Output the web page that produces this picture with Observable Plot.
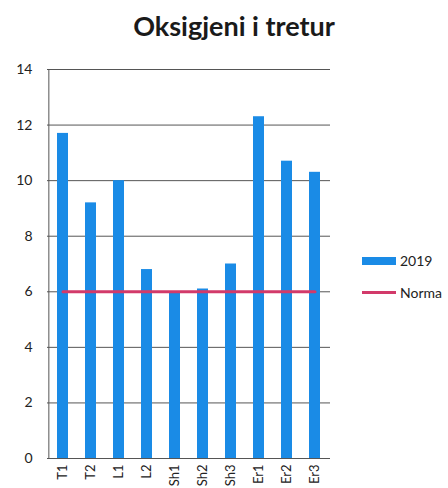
<!DOCTYPE html>
<html>
<head>
<meta charset="utf-8">
<script src="https://cdn.jsdelivr.net/npm/d3@7"></script>
<script src="https://cdn.jsdelivr.net/npm/@observablehq/plot@0.6"></script>
<style>
  html, body { margin: 0; padding: 0; background: #fff; }
  body { width: 448px; height: 488px; overflow: hidden; position: relative; font-family: Lato, "Open Sans", sans-serif; }
  #title { position: absolute; left: 0; top: 9px; width: 468px; text-align: center; font-size: 27px; font-weight: bold; color: #1a1a1a; }
  #chart { position: absolute; left: 0; top: 50px; }
  .leg { position: absolute; left: 362px; font-size: 14px; color: #222; display: flex; align-items: center; }
  .sw { display: inline-block; width: 34px; margin-right: 4px; }
</style>
</head>
<body>
<div id="title">Oksigjeni i tretur</div>
<div id="chart"></div>
<div class="leg" style="top:252px"><span class="sw" style="height:8px;background:#1a8be6"></span>2019</div>
<div class="leg" style="top:284px"><span class="sw" style="height:3px;background:#d23a6a"></span>Norma</div>
<script>
const categories = ["T1", "T2", "L1", "L2", "Sh1", "Sh2", "Sh3", "Er1", "Er2", "Er3"];
const values2019 = [11.7, 9.2, 10.0, 6.8, 6.0, 6.1, 7.0, 12.3, 10.7, 10.3];
const normaValues = [6, 6, 6, 6, 6, 6, 6, 6, 6, 6];
const yTicks = [0, 2, 4, 6, 8, 10, 12, 14];

const data = categories.map((c, i) => ({cat: c, v: values2019[i], n: normaValues[i]}));

const W = 448, H = 438, mL = 47, mR = 118;
const half = (W - mL - mR) / categories.length / 2;

const chart = Plot.plot({
  width: W,
  height: H,
  marginLeft: mL,
  marginRight: mR,
  marginTop: 19,
  marginBottom: 30,
  style: {fontFamily: "Lato, 'Open Sans', sans-serif", color: "#222", overflow: "visible"},
  x: {domain: categories, paddingInner: 0.6, paddingOuter: 0.3, align: 0.5, label: null},
  y: {domain: [0, 14], ticks: yTicks, label: null},
  marks: [
    Plot.ruleY(yTicks, {stroke: "#555", strokeWidth: 1}),
    Plot.ruleX([categories[0]], {dx: -half, y1: 0, y2: 14, stroke: "#555", strokeWidth: 1}),
    Plot.barY(data, {x: "cat", y: "v", fill: "#1a8be6"}),
    Plot.line(data, {x: "cat", y: "n", stroke: "#d23a6a", strokeWidth: 3}),
    Plot.axisY({ticks: yTicks, tickSize: 0, tickPadding: 15, fontSize: 14, label: null}),
    Plot.axisX({tickSize: 0, tickRotate: -90, tickPadding: 6, fontSize: 13, label: null})
  ]
});
document.getElementById("chart").appendChild(chart);
</script>
</body>
</html>
